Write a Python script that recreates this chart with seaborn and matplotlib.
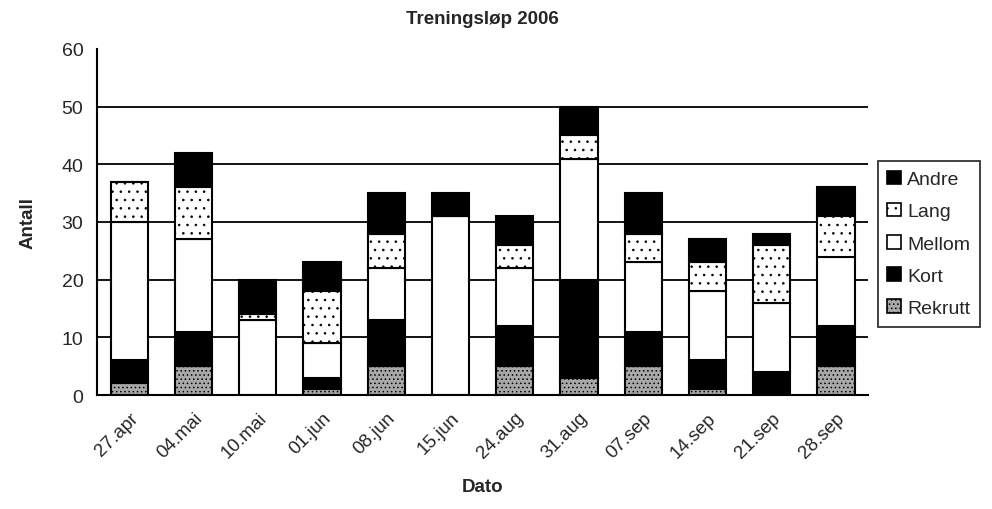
import numpy as np
import matplotlib
matplotlib.use("Agg")
import matplotlib.pyplot as plt
import seaborn as sns
from matplotlib.patches import Patch


dates = ["27.apr", "04.mai", "10.mai", "01.jun", "08.jun", "15.jun",
         "24.aug", "31.aug", "07.sep", "14.sep", "21.sep", "28.sep"]

rekrutt = [2, 5, 0, 1, 5, 0, 5, 3, 5, 1, 0, 5]
kort = [4, 6, 0, 2, 8, 0, 7, 17, 6, 5, 4, 7]
mellom = [24, 16, 13, 6, 9, 31, 10, 21, 12, 12, 12, 12]
lang = [7, 9, 1, 9, 6, 0, 4, 4, 5, 5, 10, 7]
andre = [0, 6, 6, 5, 7, 4, 5, 5, 7, 4, 2, 5]

y_ticks = [0, 10, 20, 30, 40, 50, 60]
grid_levels = [10, 20, 30, 40, 50]

series = [
    ("Rekrutt", rekrutt, "#a8a8a8", "...."),
    ("Kort", kort, "black", None),
    ("Mellom", mellom, "white", None),
    ("Lang", lang, "white", ".."),
    ("Andre", andre, "black", None),
]


def main():
    sns.set_theme(style="white")
    plt.rcParams["font.family"] = ["Liberation Sans", "DejaVu Sans"]
    plt.rcParams["hatch.linewidth"] = 0.6
    plt.rcParams["hatch.color"] = "black"

    fig = plt.figure(figsize=(9.92, 5.1), dpi=100)
    ax = fig.add_axes([0.098, 0.2235, 0.777, 0.6785])

    for level in grid_levels:
        ax.axhline(level, color="black", linewidth=1.3, zorder=0)

    bottom = np.zeros(len(dates))
    handles = []
    for name, values, color, hatch in series:
        sns.barplot(
            x=dates,
            y=values,
            bottom=bottom,
            color=color,
            edgecolor="black",
            linewidth=1.5,
            hatch=hatch,
            width=0.58,
            saturation=1,
            ax=ax,
            zorder=2,
        )
        bottom = bottom + np.array(values)
        handles.append(Patch(facecolor=color, edgecolor="black",
                             hatch=hatch, linewidth=1.2, label=name))

    ax.set_xlim(-0.5, len(dates) - 0.5)
    ax.set_ylim(0, 60)
    ax.set_yticks(y_ticks)
    ax.set_yticklabels([str(t) for t in y_ticks], fontsize=14)

    ax.set_xticks(range(len(dates)))
    ax.set_xticklabels(dates, rotation=45, ha="right",
                       rotation_mode="anchor", fontsize=13.5)
    ax.set_xticks(np.arange(-0.5, len(dates)), minor=True)
    ax.tick_params(axis="x", which="major", length=0, pad=10)
    ax.tick_params(axis="x", which="minor", length=6, width=1.3,
                   direction="out", color="black")
    ax.tick_params(axis="y", length=6, width=1.3, direction="out",
                   color="black", pad=4)

    for side in ["top", "right"]:
        ax.spines[side].set_visible(False)
    for side in ["left", "bottom"]:
        ax.spines[side].set_color("black")
        ax.spines[side].set_linewidth(1.5)

    ax.set_title("Treningsløp 2006", fontsize=13.5, fontweight="bold", pad=19)
    ax.set_xlabel("Dato", fontsize=13.5, fontweight="bold", labelpad=12)
    ax.set_ylabel("Antall", fontsize=13.5, fontweight="bold", labelpad=18)

    legend = fig.legend(
        handles=handles[::-1],
        loc="center left",
        bbox_to_anchor=(0.875, 0.52),
        fontsize=14,
        frameon=True,
        fancybox=False,
        handlelength=0.7,
        handleheight=0.7,
        handletextpad=0.3,
        labelspacing=0.75,
        borderpad=0.5,
    )
    legend.get_frame().set_edgecolor("black")
    legend.get_frame().set_linewidth(1.3)

    fig.savefig("out.png", dpi=100)
    plt.close(fig)


if __name__ == "__main__":
    main()
